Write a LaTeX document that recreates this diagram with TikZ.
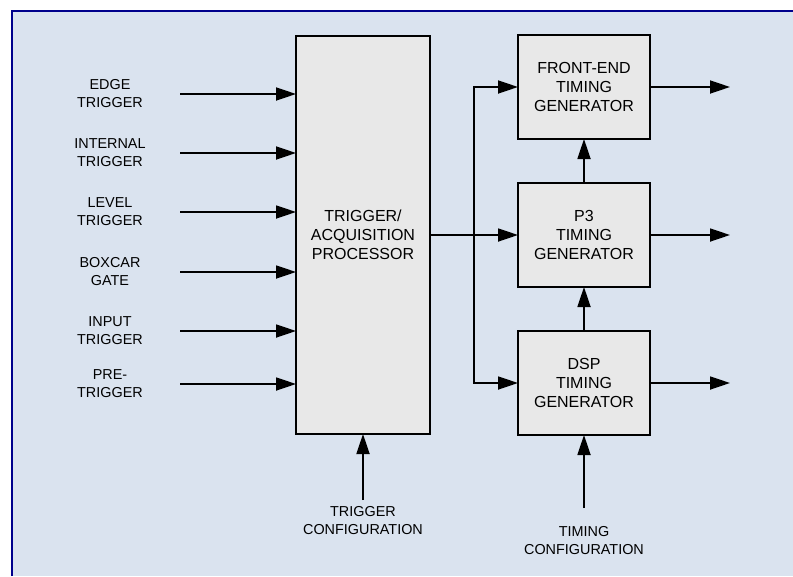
\documentclass[tikz,border=0pt]{standalone}
\usepackage{fontspec}
\setmainfont{Liberation Sans}
\usetikzlibrary{arrows.meta,positioning,calc}
\definecolor{panelblue}{RGB}{218,227,239}
\definecolor{framenavy}{RGB}{0,0,140}
\definecolor{blockgray}{RGB}{232,232,232}

\begin{document}
\begin{tikzpicture}
			[x=1pt, y=-1pt,
			% STYLES
			% The block style is used to draw the processing blocks
			block/.style={rectangle, draw, fill=blockgray, line width=1.8pt, inner sep=0pt, outer sep=0pt, align=center, font=\fontsize{16}{19}\selectfont},
			proc/.style={block, minimum width=134pt, minimum height=398pt},
			gen/.style={block, minimum width=132pt, minimum height=104pt},
			% The signal style is used to draw the names of the signals
			signal/.style={align=center, font=\fontsize{14.4}{18}\selectfont},
			% The flow style is used to draw the arrows
			flow/.style={-{Triangle[length=20pt,width=13pt]}, line width=1.8pt}]
			\useasboundingbox (0,0) rectangle (793,576);
			% Background panel
			\fill[panelblue] (11.5,11) rectangle (793,576);
			\draw[framenavy, line width=2pt] (11.5,576) |- (793,11);
			% Draw blocks
			\node [proc] (proc) at (363,235) {TRIGGER/\\ACQUISITION\\PROCESSOR};
			\node [gen, right=88pt of proc] (p3) {P3\\TIMING\\GENERATOR};
			\node [gen, above=44pt of p3] (frontend) {FRONT-END\\TIMING\\GENERATOR};
			\node [gen, below=44pt of p3] (dsp) {DSP\\TIMING\\GENERATOR};
			%%%%%%%%%%%%%%%
			% Inputs
			\node [signal] (edge) at (110,94) {EDGE\\TRIGGER};
			\node [signal] (internal) at (110,153) {INTERNAL\\TRIGGER};
			\node [signal] (level) at (110,212) {LEVEL\\TRIGGER};
			\node [signal] (boxcar) at (110,272) {BOXCAR\\GATE};
			\node [signal] (input) at (110,331) {INPUT\\TRIGGER};
			\node [signal] (pretrig) at (110,384) {PRE-\\TRIGGER};
			\coordinate (edge-in) at (180,94);
			\coordinate (internal-in) at (180,153);
			\coordinate (level-in) at (180,212);
			\coordinate (boxcar-in) at (180,272);
			\coordinate (input-in) at (180,331);
			\coordinate (pretrig-in) at (180,384);
			% configuration
			\node [signal] (trigcfg) at (363,521) {TRIGGER\\CONFIGURATION};
			\coordinate (trigcfg-in) at (363,500);
			\node [signal] (timcfg) at (584,541) {TIMING\\CONFIGURATION};
			\coordinate (timcfg-in) at (584,508);
			% outputs
			\coordinate [right=80pt of frontend.east] (frontend-out);
			\coordinate [right=80pt of p3.east] (p3-out);
			\coordinate [right=80pt of dsp.east] (dsp-out);
			\coordinate (split) at ($(proc.east)!0.5!(p3.west)$);
			%%%%%%%%%%%%%%%%
			% Draw the links between blocks
			\path[flow]
			(edge-in) edge (edge-in -| proc.west)
			(internal-in) edge (internal-in -| proc.west)
			(level-in) edge (level-in -| proc.west)
			(boxcar-in) edge (boxcar-in -| proc.west)
			(input-in) edge (input-in -| proc.west)
			(pretrig-in) edge (pretrig-in -| proc.west)
			(trigcfg-in) edge (proc.south)
			(timcfg-in) edge (dsp.south)
			(dsp.north) edge (p3.south)
			(p3.north) edge (frontend.south)
			(frontend.east) edge (frontend-out)
			(p3.east) edge (p3-out)
			(dsp.east) edge (dsp-out);
			\draw[flow] (proc.east) -- (p3.west);
			\draw[flow] (split) |- (frontend.west);
			\draw[flow] (split) |- (dsp.west);
\end{tikzpicture}
\end{document}
